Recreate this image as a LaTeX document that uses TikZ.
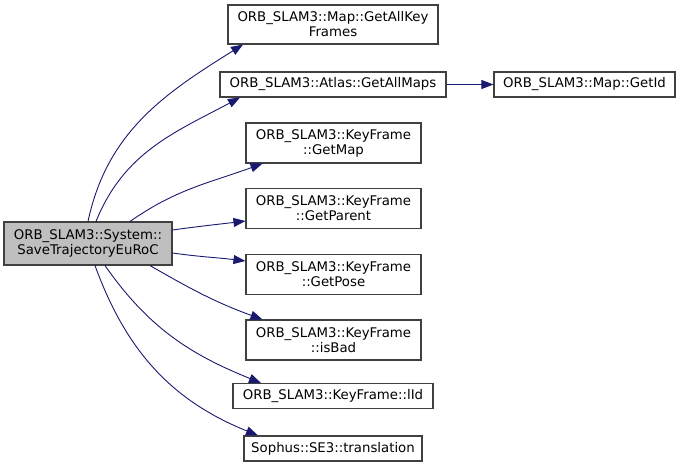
\documentclass[tikz,border=0pt]{standalone}
\usepackage{fontspec}
\setmainfont{DejaVu Sans}
\usetikzlibrary{arrows.meta}
\definecolor{edgeblue}{HTML}{191970}
\definecolor{rootgray}{HTML}{BFBFBF}
\definecolor{boxline}{HTML}{404040}
\begin{document}
\begin{tikzpicture}[x=1pt, y=1pt,
  fn/.style={draw=boxline, line width=1.1pt, fill=white, align=center, inner sep=0pt,
    font=\fontsize{13.3}{15}\selectfont},
  call/.style={draw=edgeblue, line width=0.9pt, -{Triangle[length=12pt, width=9pt]}, edgeblue}]

  % --- 1. 画像の枠 ---
  \useasboundingbox (0,0) rectangle (681,-467);

  % --- 2. 呼び出し元 ---
  \node[fn, fill=rootgray, minimum width=168, minimum height=43] (root) at (88,-243.5)
    {ORB\_SLAM3::System::\\SaveTrajectoryEuRoC};

  % --- 3. 呼び出し先 ---
  \node[fn, minimum width=210, minimum height=39] (gakf) at (333,-24.5)
    {ORB\_SLAM3::Map::GetAllKey\\Frames};
  \node[fn, minimum width=226, minimum height=25] (gam) at (333,-84.5)
    {ORB\_SLAM3::Atlas::GetAllMaps};
  \node[fn, minimum width=181, minimum height=25] (gid) at (584.5,-84.5)
    {ORB\_SLAM3::Map::GetId};
  \node[fn, minimum width=175, minimum height=40] (gmap) at (333.5,-143)
    {ORB\_SLAM3::KeyFrame\\::GetMap};
  \node[fn, minimum width=175, minimum height=40] (gpar) at (333.5,-208.5)
    {ORB\_SLAM3::KeyFrame\\::GetParent};
  \node[fn, minimum width=175, minimum height=40] (gpose) at (333.5,-274.5)
    {ORB\_SLAM3::KeyFrame\\::GetPose};
  \node[fn, minimum width=175, minimum height=40] (isbad) at (333.5,-340)
    {ORB\_SLAM3::KeyFrame\\::isBad};
  \node[fn, minimum width=200, minimum height=25] (lid) at (333,-396)
    {ORB\_SLAM3::KeyFrame::lId};
  \node[fn, minimum width=178, minimum height=25] (trans) at (333,-448.5)
    {Sophus::SE3::translation};

  % --- 4. 矢印 ---
  \draw[call] ([xshift=0]root.north) to[out=78, in=212] ([xshift=-90]gakf.south);
  \draw[call] ([xshift=8]root.north) to[out=68, in=208] ([xshift=-93]gam.south);
  \draw[call] ([xshift=42]root.north) to[out=35, in=200] ([xshift=-71]gmap.south);
  \draw[call] ([yshift=13.5]root.east) to[out=8, in=187] ([yshift=-12.5]gpar.west);
  \draw[call] ([yshift=-9.5]root.east) to[out=-8, in=173] ([yshift=13.5]gpose.west);
  \draw[call] ([xshift=62]root.south) to[out=-30, in=160] ([xshift=-71]isbad.north);
  \draw[call] ([xshift=17]root.south) to[out=-55, in=158] ([xshift=-72]lid.north);
  \draw[call] ([xshift=7]root.south) to[out=-70, in=158] ([xshift=-75]trans.north);
  \draw[call] (gam) -- (gid);

\end{tikzpicture}
\end{document}
